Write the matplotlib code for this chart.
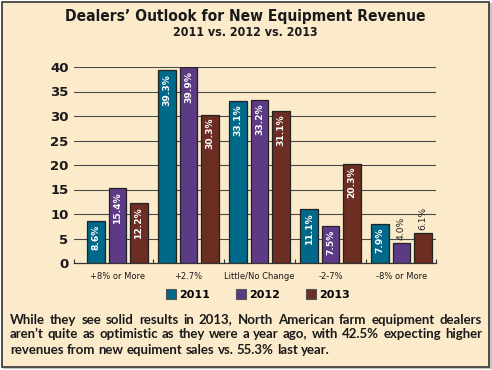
import numpy as np
import matplotlib.pyplot as plt
from matplotlib.patches import Rectangle

categories = ['+8% or More', '+2.7%', 'Little/No Change', '-2-7%', '-8% or More']
years = ['2011', '2012', '2013']
v2011 = [8.6, 39.3, 33.1, 11.1, 7.9]
v2012 = [15.4, 39.9, 33.2, 7.5, 4.0]
v2013 = [12.2, 30.3, 31.1, 20.3, 6.1]
colors = ['#006889', '#5d3a85', '#6c2d22']
yticks = [0, 5, 10, 15, 20, 25, 30, 35, 40]

caption = ["While they see solid results in 2013, North American farm equipment dealers",
           "aren\u2019t quite as optimistic as they were a year ago, with 42.5% expecting higher",
           "revenues from new equiment sales vs. 55.3% last year."]

bg = '#fbebcb'
W, H = 492, 370
fig = plt.figure(figsize=(W / 100, H / 100), dpi=100, facecolor='white')

# cream panel with frame and soft shadow
fig.patches.append(Rectangle((3 / W, 1 / H), 489 / W, 366 / H, transform=fig.transFigure,
                             facecolor='#c4c4c4', edgecolor='none', zorder=-3))
fig.patches.append(Rectangle((1.5 / W, 3.5 / H), 487 / W, 365 / H, transform=fig.transFigure,
                             facecolor=bg, edgecolor='#333333', lw=1.2, zorder=-2))

ax = fig.add_axes([74 / W, 107 / H, 362 / W, 196 / H])
ax.set_facecolor('none')

x = np.arange(len(categories))
step = 0.30
width = 0.25
for i, (vals, col) in enumerate(zip([v2011, v2012, v2013], colors)):
    xs = x + (i - 1) * step
    ax.bar(xs, vals, width=width, color=col, edgecolor='#222222', linewidth=0.9,
           label=years[i], zorder=3)
    for xi, v in zip(xs, vals):
        if v >= 7:
            ax.text(xi, v - 0.7, f'{v:.1f}%', rotation=90, ha='center', va='top',
                    color='white', fontsize=6.6, fontweight='bold', zorder=4)
        else:
            ax.text(xi, v + 0.6, f'{v:.1f}%', rotation=90, ha='center', va='bottom',
                    color='#222222', fontsize=6.6, zorder=4)

ax.set_xlim(-0.613, 4.486)
ax.set_ylim(0, 40)
ax.set_yticks(yticks)
ax.set_yticklabels([str(t) for t in yticks], fontsize=9.5, fontweight='bold', color='#1a1a1a')
ax.tick_params(axis='y', length=0, pad=4)
ax.set_xticks(x)
ax.set_xticklabels(categories, fontsize=6, color='#1a1a1a')
ax.tick_params(axis='x', length=0, pad=6.5)
ax.set_xticks([-0.613, 0.5, 1.5, 2.5, 3.5, 4.486], minor=True)
ax.tick_params(axis='x', which='minor', direction='in', length=3, width=0.8, color='#333333')
for y in yticks[1:]:
    ax.axhline(y, color='#4a4a4a', lw=0.8, zorder=1)
for s in ['left', 'right', 'top']:
    ax.spines[s].set_visible(False)
ax.spines['bottom'].set_color('#333333')
ax.spines['bottom'].set_linewidth(0.9)

leg = fig.legend(loc='center', bbox_to_anchor=(258 / W, 1 - 294.5 / H), ncol=3, frameon=False,
                 prop={'size': 8, 'weight': 'bold'}, handlelength=0.9, handleheight=0.9,
                 handletextpad=0.3, columnspacing=2.3)
for h in leg.legend_handles:
    h.set_edgecolor('#555555')
    h.set_linewidth(0.8)

fig.canvas.draw()
r = fig.canvas.get_renderer()


def fit_text(xc, yc, s, target_w, base, **kw):
    t = fig.text(xc / W, 1 - yc / H, s, ha='center', va='center', fontsize=base, **kw)
    w = t.get_window_extent(r).width
    t.set_fontsize(base * target_w / w)
    return t


fit_text(245, 17, 'Dealers\u2019 Outlook for New Equipment Revenue', 360, 12,
         fontweight='bold', family='DejaVu Sans', fontstretch='condensed', color='#1a1a1a')
fit_text(245, 33, '2011 vs. 2012 vs. 2013', 145, 9,
         fontweight='bold', family='DejaVu Sans', fontstretch='condensed', color='#1a1a1a')

# justified caption, word by word
cap_kw = dict(fontweight='bold', family='Lato', color='#1a1a1a')
probe = fig.text(0, 0, caption[0], fontsize=8, **cap_kw)
cap_size = 8 * 460 / probe.get_window_extent(r).width
probe.remove()

left_px, right_px = 10, 482
line_base = [323.5, 338.5, 353.5]
for k, line in enumerate(caption):
    words = line.split(' ')
    texts = [fig.text(0, 0, w, fontsize=cap_size, va='baseline', ha='left', **cap_kw) for w in words]
    widths = [t.get_window_extent(r).width for t in texts]
    if k < len(caption) - 1:
        gap = (right_px - left_px - sum(widths)) / (len(words) - 1)
    else:
        sp = fig.text(0, 0, 'a a', fontsize=cap_size, **cap_kw)
        sa = fig.text(0, 0, 'aa', fontsize=cap_size, **cap_kw)
        gap = sp.get_window_extent(r).width - sa.get_window_extent(r).width
        sp.remove()
        sa.remove()
    pos = left_px
    for t, wd in zip(texts, widths):
        t.set_position((pos / W, 1 - line_base[k] / H))
        pos += wd + gap

fig.savefig('out.png', dpi=100, facecolor=fig.get_facecolor())
